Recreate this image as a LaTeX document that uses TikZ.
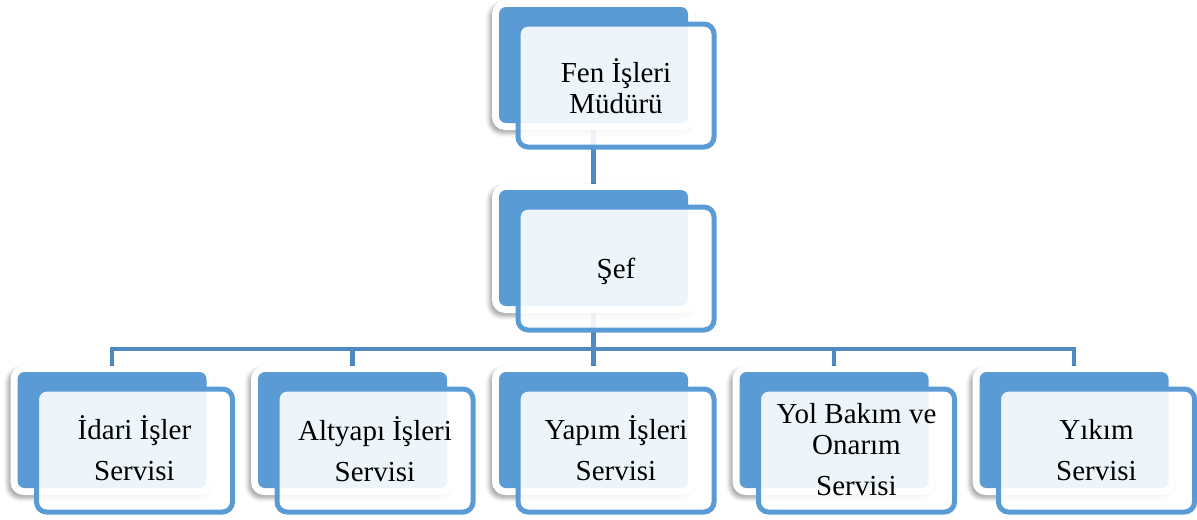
\documentclass[tikz,border=0pt]{standalone}
\usepackage{fontspec}
\setmainfont{Liberation Serif}
\usetikzlibrary{shadows.blur,backgrounds}
\definecolor{boxblue}{HTML}{5B9BD5}
\definecolor{linkblue}{RGB}{80,138,192}
\begin{document}
\begin{tikzpicture}[x=0.75pt,y=-0.75pt,
  backwhite/.style={fill=white, rounded corners=9.75pt, minimum width=152.25pt, minimum height=96.75pt, inner sep=0pt, outer sep=0pt,
    blur shadow={shadow xshift=-2pt, shadow yshift=-2.5pt, shadow blur radius=3pt, shadow opacity=35}},
  backblue/.style={fill=boxblue, rounded corners=5.25pt, minimum width=141.75pt, minimum height=87pt, inner sep=0pt, outer sep=0pt},
  frontbox/.style={draw=boxblue, line width=3.75pt, fill=white, fill opacity=0.9, rounded corners=7.5pt, minimum width=147pt, minimum height=92.25pt, inner sep=0pt},
  lbl/.style={font=\fontsize{21.75pt}{23.25pt}\selectfont, align=center, anchor=base, inner sep=0pt},
  link/.style={draw=linkblue, line width=3.5pt}
]
\useasboundingbox (0,0) rectangle (1197,519);

% top
\node[backwhite] (topW) at (593.5,65.5) {};
\node[backblue]  (topB) at (593.5,65) {};
\node[frontbox]  (topF) at (616,85.5) {};
\node[lbl] (topT) at (616,113) {Fen İşleri\\Müdürü};

% chef
\node[backwhite] (sefW) at (593.5,248.5) {};
\node[backblue]  (sefB) at (593.5,248) {};
\node[frontbox]  (sefF) at (616,268.5) {};
\node[lbl] (sefT) at (616,278) {Şef};

% bottom row (anchor = baseline of last line)
\foreach \n/\c/\by/\t in {s1/112/480/{İdari İşler\\[7.5pt]Servisi},
                       s2/352.5/481/{Altyapı İşleri\\[7.5pt]Servisi},
                       s3/593.5/480/{Yapım İşleri\\[7.5pt]Servisi},
                       s4/834/495/{Yol Bakım ve\\Onarım\\[7.5pt]Servisi},
                       s5/1074/480/{Yıkım\\[7.5pt]Servisi}}{
  \node[backwhite] (\n W) at (\c,430.5) {};
  \node[backblue]  (\n B) at (\c,430) {};
  \node[frontbox]  (\n F) at (\c+22.5,450.5) {};
  \node[lbl] (\n T) at (\c+22.5,\by) {\t};
}

\coordinate (bar) at (593.5,349);
\begin{scope}[on background layer]
  \draw[link] (topB.south) -- (sefB.north);
  \draw[link] (sefB.south) -- (bar);
  \draw[link] (s1B.north) |- (bar) -| (s5B.north);
  \draw[link] (s2B.north) -- (s2B.north |- bar);
  \draw[link] (s3B.north) -- (s3B.north |- bar);
  \draw[link] (s4B.north) -- (s4B.north |- bar);
\end{scope}
\end{tikzpicture}
\end{document}
